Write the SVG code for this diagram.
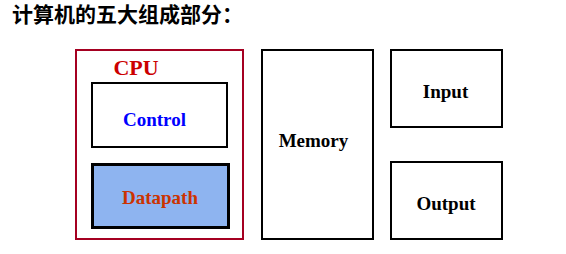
<svg xmlns="http://www.w3.org/2000/svg" width="566" height="254" viewBox="0 0 566 254">
  <style>
    .box { fill: #ffffff; stroke: #000000; stroke-width: 2; }
    .lbl { font-family: "Liberation Serif", "DejaVu Serif", serif; font-weight: bold; font-size: 19px; text-anchor: middle; fill: #000000; }
    .title { font-family: "Noto Sans CJK SC", "Noto Sans", sans-serif; font-weight: bold; font-size: 21px; fill: #000000; }
    .cpu { fill: #cc0000; font-size: 22px; }
    .ctl { fill: #0000ff; }
    .dp { fill: #cc3300; }
  </style>
  <rect width="566" height="254" fill="#ffffff"/>
  <text class="title" x="12" y="21.5">计算机的五大组成部分：</text>
  <g id="cpu">
    <rect x="76" y="50" width="167" height="189" fill="#ffffff" stroke="#a50021" stroke-width="2"/>
    <text class="lbl cpu" x="136" y="75">CPU</text>
  </g>
  <g id="control">
    <rect class="box" x="92" y="83" width="135" height="64"/>
    <text class="lbl ctl" x="154.5" y="126">Control</text>
  </g>
  <g id="datapath">
    <rect x="92.5" y="164.5" width="136" height="63" fill="#8eb4f0" stroke="#000000" stroke-width="3"/>
    <text class="lbl dp" x="160" y="204">Datapath</text>
  </g>
  <g id="memory">
    <rect class="box" x="262" y="50" width="111" height="189"/>
    <text class="lbl" x="313.5" y="147">Memory</text>
  </g>
  <g id="input">
    <rect class="box" x="391" y="50" width="111" height="77"/>
    <text class="lbl" x="445.5" y="98">Input</text>
  </g>
  <g id="output">
    <rect class="box" x="391" y="162" width="111" height="77"/>
    <text class="lbl" x="446" y="210">Output</text>
  </g>
  <g id="connectors"/>
</svg>
